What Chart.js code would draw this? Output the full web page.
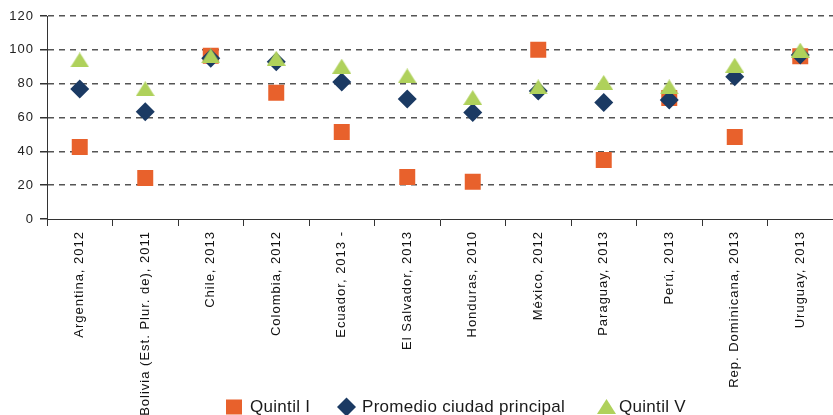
<!DOCTYPE html>
<html lang="es">
<head>
<meta charset="utf-8">
<title>Quintil I / Promedio / Quintil V</title>
<script src="https://cdn.jsdelivr.net/npm/chart.js@4.4.1/dist/chart.umd.min.js"></script>
<style>
  html, body { margin: 0; padding: 0; background: #fff; overflow: hidden; }
  #wrap { position: relative; width: 833px; height: 415px; }
  canvas { display: block; }
</style>
</head>
<body>
<div id="wrap"><canvas id="chart"></canvas></div>
<script>
// --- data ---
const categories = [
    'Argentina, 2012', 'Bolivia (Est. Plur. de), 2011', 'Chile, 2013', 'Colombia, 2012',
    'Ecuador, 2013 -', 'El Salvador, 2013', 'Honduras, 2010', 'México, 2012',
    'Paraguay, 2013', 'Perú, 2013', 'Rep. Dominicana, 2013', 'Uruguay, 2013'
];
const quintilI = [42.5, 24.3, 96.5, 74.6, 51.4, 24.8, 22, 100, 34.9, 71.5, 48.5, 96.2];
const promedio = [76.8, 63.4, 95, 93, 81, 70.9, 63, 75.7, 68.8, 70.3, 84.1, 97];
const quintilV = [94, 77, 96.5, 95, 90.3, 84.6, 71.8, 78.1, 80.7, 78.1, 90.9, 99.8];
const yTicks = [0, 20, 40, 60, 80, 100, 120];
const seriesNames = ['Quintil I', 'Promedio ciudad principal', 'Quintil V'];

const COLORS = { q1: '#E8612C', prom: '#1B3A63', q5: '#AFD15B' };
const FONT = '"Liberation Sans", Arial, sans-serif';

// triangle drawn into a small canvas so it sits centred on its value
function triangleMarker(w, h, color) {
    const c = document.createElement('canvas');
    c.width = w;
    c.height = h;
    const g = c.getContext('2d');
    g.fillStyle = color;
    g.beginPath();
    g.moveTo(w / 2, 0);
    g.lineTo(w, h);
    g.lineTo(0, h);
    g.closePath();
    g.fill();
    return c;
}
const triangle = triangleMarker(19, 15, COLORS.q5);

// the source used slightly spaced lettering
const spacingPlugin = {
    id: 'spacing',
    beforeDraw(chart) { chart.ctx.letterSpacing = '1px'; }
};

// legend sits at the bottom, over the rotated labels
const legendPlugin = {
    id: 'bottomLegend',
    afterDraw(chart) {
        const ctx = chart.ctx;
        const y = 407;
        ctx.save();
        ctx.letterSpacing = '0.3px';
        ctx.font = '17px ' + FONT;
        ctx.textBaseline = 'middle';

        ctx.fillStyle = COLORS.q1;
        ctx.fillRect(226, y - 7.5, 16, 15);
        ctx.fillStyle = '#1a1a1a';
        ctx.fillText(seriesNames[0], 250, y);

        ctx.fillStyle = COLORS.prom;
        ctx.beginPath();
        ctx.moveTo(346.5, y - 9.5);
        ctx.lineTo(356, y);
        ctx.lineTo(346.5, y + 9.5);
        ctx.lineTo(337, y);
        ctx.closePath();
        ctx.fill();
        ctx.fillStyle = '#1a1a1a';
        ctx.fillText(seriesNames[1], 362, y);

        ctx.drawImage(triangle, 597, y - 8);
        ctx.fillText(seriesNames[2], 619, y);
        ctx.restore();
    }
};

const ctx = document.getElementById('chart').getContext('2d');
new Chart(ctx, {
    type: 'line',
    data: {
        labels: categories,
        datasets: [
            { label: seriesNames[0], data: quintilI, order: 3, pointStyle: 'rect', pointRadius: 11.3,
              backgroundColor: COLORS.q1, borderColor: COLORS.q1 },
            { label: seriesNames[1], data: promedio, order: 2, pointStyle: 'rectRot', pointRadius: 9.5,
              backgroundColor: COLORS.prom, borderColor: COLORS.prom },
            { label: seriesNames[2], data: quintilV, order: 1, pointStyle: triangle, pointRadius: 10,
              backgroundColor: COLORS.q5, borderColor: COLORS.q5 }
        ].map(d => ({ ...d, showLine: false, pointBorderWidth: 0, pointHoverRadius: d.pointRadius }))
    },
    options: {
        responsive: true,
        maintainAspectRatio: false,
        animation: false,
        // plot runs slightly past the right edge, as in the cropped original
        layout: { autoPadding: false, padding: { top: 16, right: -4, left: 0, bottom: 0 } },
        plugins: { legend: { display: false }, tooltip: { enabled: false } },
        scales: {
            x: {
                offset: true,
                grid: { offset: true, drawOnChartArea: false, drawTicks: true, tickLength: 7,
                        color: '#333', tickColor: '#333' },
                border: { color: '#333', width: 1 },
                ticks: { autoSkip: false, minRotation: 90, maxRotation: 90, padding: 5,
                         color: '#111', font: { family: FONT, size: 13 } },
                afterFit(scale) {
                    scale.height = 196;
                    scale.paddingLeft = 0;
                    scale.paddingRight = 0;
                }
            },
            y: {
                min: yTicks[0],
                max: yTicks[yTicks.length - 1],
                ticks: { stepSize: yTicks[1] - yTicks[0], padding: 6, color: '#222',
                         font: { family: FONT, size: 13 } },
                grid: {
                    color: c => (c.tick && c.tick.value === 0 ? 'rgba(0,0,0,0)' : '#555'),
                    lineWidth: 1.5, tickLength: 7, tickColor: '#333'
                },
                border: { color: '#333', width: 1, dash: [6, 5] },
                afterFit(scale) { scale.width = 47; }
            }
        }
    },
    plugins: [spacingPlugin, legendPlugin]
});
</script>
</body>
</html>
